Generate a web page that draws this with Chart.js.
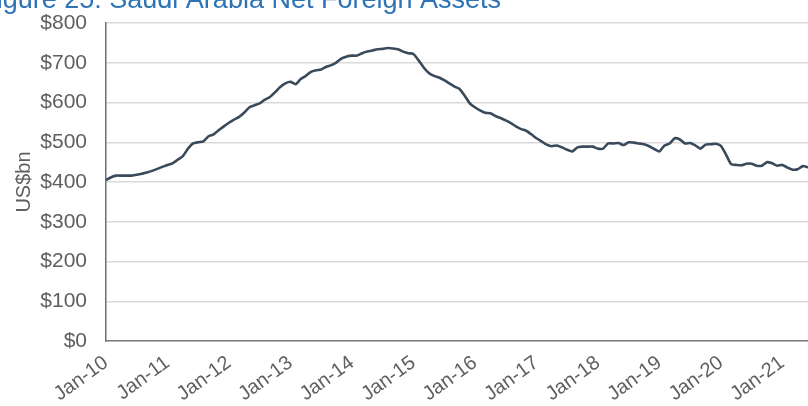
<!DOCTYPE html>
<html>
<head>
<meta charset="utf-8">
<script src="https://cdn.jsdelivr.net/npm/chart.js@4/dist/chart.umd.min.js"></script>
<style>
  html, body { margin: 0; padding: 0; background: #ffffff; overflow: hidden; }
  canvas { display: block; }
</style>
</head>
<body>
<canvas id="nfa" width="808" height="406"></canvas>
<script>
// Saudi Arabia net foreign assets, monthly, US$bn (Jan-10 .. Jun-21)
const years = ['10','11','12','13','14','15','16','17','18','19','20','21'];
const monthNames = ['Jan','Feb','Mar','Apr','May','Jun','Jul','Aug','Sep','Oct','Nov','Dec'];
const monthsInLastYear = 6;

const netForeignAssets = [
  // 2010
  405, 412, 416, 416, 416, 416, 418, 421, 424, 428, 433, 438,
  // 2011
  443, 447, 456, 465, 484, 497, 500, 502, 515, 520, 530, 540,
  // 2012
  549, 557, 564, 575, 588, 593, 598, 607, 614, 626, 639, 648,
  // 2013
  652, 646, 659, 667, 677, 681, 683, 690, 694, 701, 711, 716,
  // 2014
  718, 718, 724, 728, 731, 734, 735, 737, 736, 734, 728, 724,
  // 2015
  722, 706, 688, 674, 667, 663, 656, 648, 640, 634, 617, 598,
  // 2016
  588, 580, 574, 573, 566, 561, 555, 548, 540, 533, 529, 520,
  // 2017
  510, 502, 494, 490, 492, 487, 481, 477, 487, 489, 489, 489,
  // 2018
  484, 484, 497, 497, 498, 493, 500, 499, 497, 495, 490, 483,
  // 2019
  477, 492, 497, 510, 507, 497, 498, 492, 484, 494, 495, 496,
  // 2020
  491, 469, 445, 443, 442, 446, 446, 441, 441, 450, 447, 441,
  // 2021
  443, 436, 431, 432, 440, 437
];

const monthLabels = [];
years.forEach((y, yi) => {
  const n = yi === years.length - 1 ? monthsInLastYear : 12;
  for (let m = 0; m < n; m++) monthLabels.push(monthNames[m] + '-' + y);
});

const yTicks = [0, 100, 200, 300, 400, 500, 600, 700, 800];

const FONT = "'Liberation Sans', Arial, sans-serif";
const TICK_COLOR = '#5f5f5f';

// Heading text, sitting partly above the top edge of the canvas
const headingPlugin = {
  id: 'heading',
  afterDraw(chart) {
    const ctx = chart.ctx;
    ctx.save();
    ctx.font = '27px ' + FONT;
    ctx.fillStyle = '#2e74b5';
    ctx.textAlign = 'right';
    ctx.textBaseline = 'alphabetic';
    ctx.fillText('Figure 25: Saudi Arabia Net Foreign Assets', 501, 8);
    ctx.restore();
  }
};

new Chart(document.getElementById('nfa'), {
  type: 'line',
  data: {
    labels: monthLabels,
    datasets: [{
      data: netForeignAssets,
      borderColor: '#3a4a5b',
      borderWidth: 2.6,
      pointRadius: 0,
      tension: 0.2,
      fill: false
    }]
  },
  options: {
    responsive: false,
    devicePixelRatio: 1,
    animation: false,
    layout: { padding: { top: 23, left: 0, right: 0, bottom: 0 } },
    plugins: {
      legend: { display: false },
      tooltip: { enabled: false },
      title: { display: false }
    },
    scales: {
      x: {
        type: 'category',
        offset: false,
        grid: { display: false, drawTicks: false },
        border: { display: true, color: '#7f7f7f', width: 1.5 },
        ticks: {
          autoSkip: false,
          minRotation: 36,
          maxRotation: 36,
          padding: 10,
          color: TICK_COLOR,
          font: { family: FONT, size: 20 },
          callback: (v, i) => monthLabels[i].startsWith('Jan') ? monthLabels[i] : null
        },
        afterFit: s => { s.height = 65; s.paddingLeft = 0; s.paddingRight = 0; }
      },
      y: {
        min: 0,
        max: 800,
        afterBuildTicks: s => { s.ticks = yTicks.map(v => ({ value: v })); },
        grid: { color: '#d9d9d9', lineWidth: 1.5, drawTicks: false },
        border: { display: true, color: '#6f6f6f', width: 1.5 },
        ticks: {
          padding: 19,
          color: TICK_COLOR,
          font: { family: FONT, size: 21 },
          callback: v => '$' + v
        },
        title: {
          display: true,
          text: 'US$bn',
          color: TICK_COLOR,
          font: { family: FONT, size: 20 },
          padding: { top: 12, bottom: 0 }
        },
        afterFit: s => { s.width = 106; s.paddingTop = 0; s.paddingBottom = 0; }
      }
    }
  },
  plugins: [headingPlugin]
});
</script>
</body>
</html>
